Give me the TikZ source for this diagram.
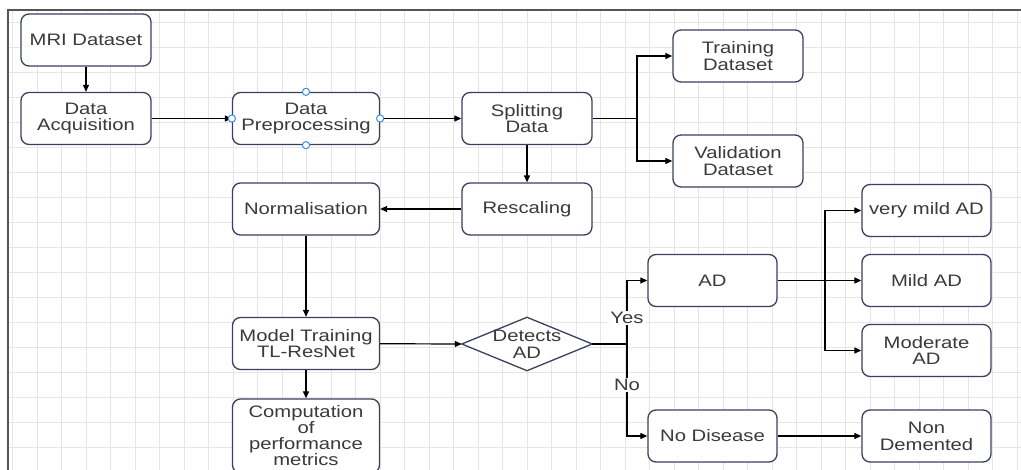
\documentclass[tikz,border=0pt]{standalone}
\usepackage{fontspec}
\setmainfont{Liberation Sans}[FakeStretch=1.22]
\usetikzlibrary{arrows.meta}
\definecolor{boxline}{HTML}{3B4060}
\definecolor{txt}{HTML}{3A3A3A}
\definecolor{gridc}{HTML}{E6E6E6}
\definecolor{handlec}{HTML}{3D8EE8}
\definecolor{framec}{HTML}{555555}
\begin{document}
\begin{tikzpicture}[x=1pt,y=-1pt,
  box/.style={draw=boxline, line width=1.3pt, rounded corners=8pt, fill=white,
    text=txt, align=center, font=\fontsize{16.6}{16.8}\selectfont, inner sep=0pt,
    minimum width=130pt, minimum height=52pt},
  wbox/.style={box, minimum width=147pt},
  conn/.style={line width=1.2pt, black},
  arr/.style={conn, -{Triangle[length=7pt,width=6pt]}},
  lab/.style={fill=white, text=txt, font=\fontsize{16.6}{16.8}\selectfont, inner sep=1pt},
  handle/.style={draw=handlec, fill=white, line width=1pt}
]
\fill[white] (0,0) rectangle (1021,470);
\useasboundingbox (0,0) rectangle (1021,470);
% grid
\foreach \x in {12.5,37,...,1020} \draw[gridc, line width=0.9pt] (\x,11) -- (\x,470);
\foreach \y in {22,47,...,470} \draw[gridc, line width=0.9pt] (9,\y) -- (1021,\y);
% frame
\draw[framec, line width=2pt] (8,470) -- (8,10) -- (1021,10);

% nodes
\node[box] (mri) at (86,40) {MRI Dataset};
\node[box] (acq) at (86,118.5) {Data\\Acquisition};
\node[wbox] (prep) at (306,118.5) {Data\\Preprocessing};
\node[box] (split) at (527,118.5) {Splitting\\Data};
\node[box] (train) at (738,56) {Training\\Dataset};
\node[box] (val) at (738,161) {Validation\\Dataset};
\node[box] (resc) at (527,209) {Rescaling};
\node[wbox] (norm) at (306,209) {Normalisation};
\node[wbox] (model) at (306,343.5) {Model Training\\TL-ResNet};
\node[wbox, minimum height=74pt, font=\fontsize{16.6}{16}\selectfont] (comp) at (306,436) {Computation\\of\\performance\\metrics};
\node[minimum width=130pt, minimum height=53pt, inner sep=0pt] (dec) at (527,344) {};
\draw[boxline, line width=1.3pt, fill=white] (dec.west) -- (dec.north) -- (dec.east) -- (dec.south) -- cycle;
\node[text=txt, align=center, font=\fontsize{16.6}{16.8}\selectfont] at (dec.center) {Detects\\AD};
\node[box, minimum width=129pt] (ad) at (712.5,280.5) {AD};
\node[box, minimum width=129pt] (nodis) at (712.5,436) {No Disease};
\node[box, minimum width=129pt] (vmild) at (926.5,210.5) {very mild AD};
\node[box, minimum width=129pt] (mild) at (926.5,280.5) {Mild AD};
\node[box, minimum width=129pt] (mod) at (926.5,350.5) {Moderate\\AD};
\node[box, minimum width=129pt] (nondem) at (926.5,436) {Non\\Demented};

% connectors
\draw[arr] (mri) -- (acq);
\draw[arr] (acq) -- (prep);
\draw[arr] (prep) -- (split);
\coordinate (b1) at (637,118.5);
\draw[conn] (split.east) -- (b1);
\draw[arr] (b1) |- (train.west);
\draw[arr] (b1) |- (val.west);
\draw[arr] (split) -- (resc);
\draw[arr] (resc) -- (norm);
\draw[arr] (norm) -- (model);
\draw[arr] (model) -- (comp);
\draw[arr] (model) -- (dec.west);
\coordinate (b2) at (627,344);
\draw[conn] (dec.east) -- (b2);
\draw[arr] (b2) |- (ad.west);
\draw[arr] (b2) |- (nodis.west);
\node[lab] (yes) at (627,318) {Yes};
\node[lab] (no) at (627,385) {No};
\coordinate (b3) at (825,280.5);
\draw[conn] (ad.east) -- (b3);
\draw[arr] (b3) |- (vmild.west);
\draw[arr] (b3) -- (mild.west);
\draw[arr] (b3) |- (mod.west);
\draw[arr] (nodis) -- (nondem);

% handles
\foreach \a in {north,south,east,west} \draw[handle] (prep.\a) circle (3.6);
\end{tikzpicture}
\end{document}
